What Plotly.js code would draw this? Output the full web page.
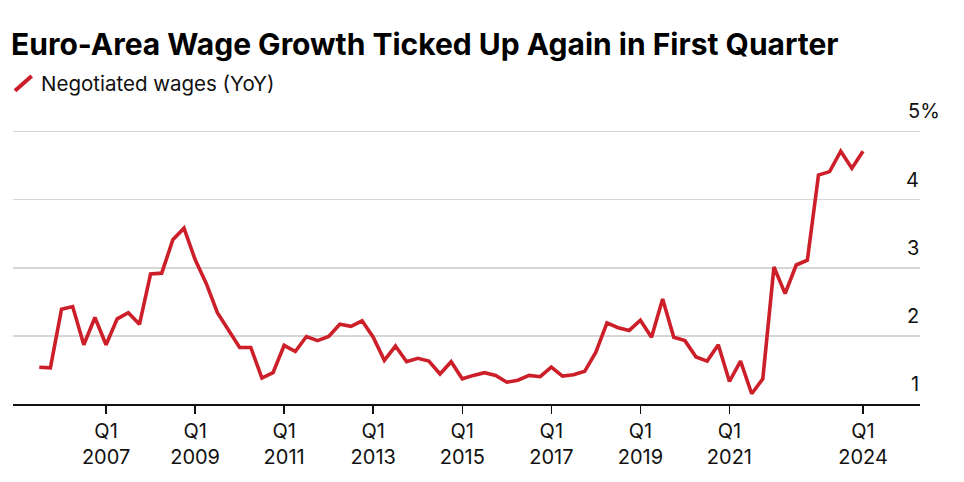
<!DOCTYPE html>
<html>
<head>
<meta charset="utf-8">
<script src="https://cdn.plot.ly/plotly-3.0.1.min.js"></script>
<style>
  html, body { margin: 0; padding: 0; background: #ffffff; }
  #chart { width: 964px; height: 482px; }
</style>
</head>
<body>
<div id="chart"></div>
<script>
// ---- Data ----
const quarters = [
  "2005 Q3","2005 Q4",
  "2006 Q1","2006 Q2","2006 Q3","2006 Q4",
  "2007 Q1","2007 Q2","2007 Q3","2007 Q4",
  "2008 Q1","2008 Q2","2008 Q3","2008 Q4",
  "2009 Q1","2009 Q2","2009 Q3","2009 Q4",
  "2010 Q1","2010 Q2","2010 Q3","2010 Q4",
  "2011 Q1","2011 Q2","2011 Q3","2011 Q4",
  "2012 Q1","2012 Q2","2012 Q3","2012 Q4",
  "2013 Q1","2013 Q2","2013 Q3","2013 Q4",
  "2014 Q1","2014 Q2","2014 Q3","2014 Q4",
  "2015 Q1","2015 Q2","2015 Q3","2015 Q4",
  "2016 Q1","2016 Q2","2016 Q3","2016 Q4",
  "2017 Q1","2017 Q2","2017 Q3","2017 Q4",
  "2018 Q1","2018 Q2","2018 Q3","2018 Q4",
  "2019 Q1","2019 Q2","2019 Q3","2019 Q4",
  "2020 Q1","2020 Q2","2020 Q3","2020 Q4",
  "2021 Q1","2021 Q2","2021 Q3","2021 Q4",
  "2022 Q1","2022 Q2","2022 Q3","2022 Q4",
  "2023 Q1","2023 Q2","2023 Q3","2023 Q4",
  "2024 Q1"
];

const negotiatedWages = [
  1.54, 1.53,
  2.39, 2.43, 1.87, 2.27,
  1.87, 2.25, 2.34, 2.17,
  2.91, 2.92, 3.41, 3.58,
  3.12, 2.77, 2.34, 2.08,
  1.83, 1.83, 1.38, 1.46,
  1.86, 1.77, 1.99, 1.93,
  1.99, 2.17, 2.14, 2.22,
  1.98, 1.64, 1.85, 1.62,
  1.67, 1.63, 1.44, 1.62,
  1.37, 1.42, 1.46, 1.42,
  1.32, 1.35, 1.42, 1.40,
  1.54, 1.41, 1.43, 1.48,
  1.76, 2.19, 2.12, 2.08,
  2.23, 1.98, 2.54, 1.98,
  1.93, 1.69, 1.63, 1.87,
  1.33, 1.63, 1.15, 1.37,
  3.01, 2.62, 3.04, 3.11,
  4.36, 4.41, 4.71, 4.46,
  4.71
];

const tickQuarters = ["2007 Q1","2009 Q1","2011 Q1","2013 Q1","2015 Q1","2017 Q1","2019 Q1","2021 Q1","2024 Q1"];
const yTickValues = [1, 2, 3, 4, 5];
const yTickLabels = ["1", "2", "3", "4", "5%"];

const titleText = "Euro-Area Wage Growth Ticked Up Again in First Quarter";
const seriesName = "Negotiated wages (YoY)";

// ---- Helpers ----
function quarterToNum(s) {
  const parts = s.split(" Q");
  return Number(parts[0]) + (Number(parts[1]) - 1) / 4;
}
function quarterToTick(s) {
  const parts = s.split(" ");
  return parts[1] + "<br>" + parts[0];
}

const xVals = quarters.map(quarterToNum);
const RED = "#cc1f29";
const FONT = "Inter, 'Liberation Sans', Arial, sans-serif";
const PLOT_H = 276; // plot-area height in px (482 - 128 - 78)

const trace = {
  type: "scatter",
  mode: "lines",
  x: xVals,
  y: negotiatedWages,
  name: seriesName,
  line: { color: RED, width: 3.6, shape: "linear" },
  hoverinfo: "skip",
  showlegend: false
};

const yAnnotations = yTickValues.map((v, i) => ({
  xref: "paper", yref: "y",
  x: 1, y: v,
  xanchor: "right", yanchor: "bottom",
  xshift: (yTickLabels[i].indexOf("%") >= 0) ? 22 : 1,
  yshift: 6,
  text: yTickLabels[i],
  showarrow: false,
  font: { family: FONT, size: 20, color: "#111111" }
}));

const layout = {
  width: 964,
  height: 482,
  margin: { l: 13, r: 44, t: 128, b: 78, pad: 0 },
  paper_bgcolor: "#ffffff",
  plot_bgcolor: "#ffffff",
  font: { family: FONT, color: "#111111" },
  title: {
    text: "<b>" + titleText + "</b>",
    xref: "container", yref: "container",
    x: 11 / 964, xanchor: "left",
    y: 1 - 44 / 482, yanchor: "middle",
    font: { family: FONT, size: 30, color: "#000000" }
  },
  xaxis: {
    range: [2004.91, 2025.28],
    tickmode: "array",
    tickvals: tickQuarters.map(quarterToNum),
    ticktext: tickQuarters.map(quarterToTick),
    ticks: "outside",
    ticklen: 8,
    tickwidth: 1.5,
    tickcolor: "#111111",
    showline: true,
    linecolor: "#111111",
    linewidth: 2,
    showgrid: false,
    zeroline: false,
    tickfont: { family: FONT, size: 20, color: "#111111" },
    fixedrange: true
  },
  yaxis: {
    range: [1, 5.05],
    tickmode: "array",
    tickvals: yTickValues,
    showticklabels: false,
    ticks: "",
    showgrid: true,
    gridcolor: "#d6d6d6",
    gridwidth: 1.6,
    zeroline: false,
    showline: false,
    fixedrange: true
  },
  showlegend: false,
  annotations: [
    {
      xref: "paper", yref: "paper",
      x: (39 - 13) / 907, y: (404 - 83.5) / PLOT_H,
      xanchor: "left", yanchor: "middle",
      text: seriesName,
      showarrow: false,
      font: { family: FONT, size: 20.5, color: "#111111" }
    }
  ].concat(yAnnotations),
  shapes: [
    {
      type: "line",
      xref: "paper", yref: "paper",
      x0: (15 - 13) / 907, y0: (404 - 90.7) / PLOT_H,
      x1: (31.7 - 13) / 907, y1: (404 - 76) / PLOT_H,
      line: { color: RED, width: 4 }
    }
  ]
};

Plotly.newPlot("chart", [trace], layout, { displayModeBar: false, staticPlot: true });
</script>
</body>
</html>
